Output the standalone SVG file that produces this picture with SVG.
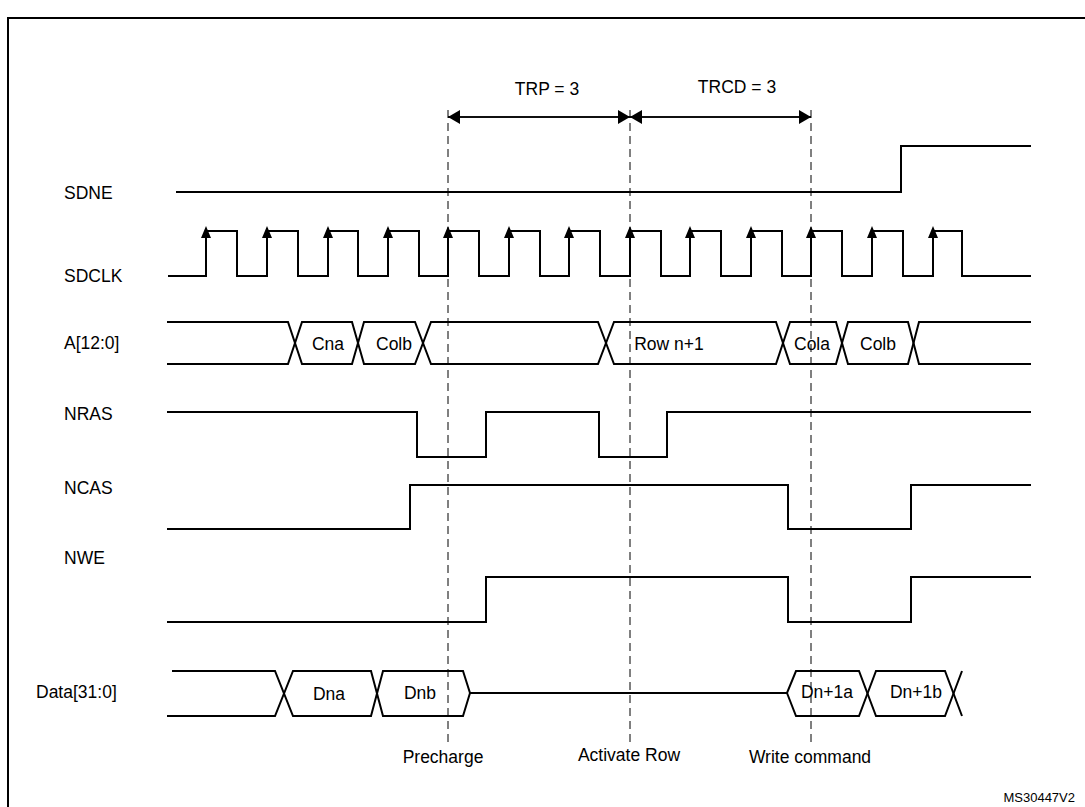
<svg xmlns="http://www.w3.org/2000/svg" width="1085" height="807" viewBox="0 0 1085 807">
<style>
.s{fill:none;stroke:#000;stroke-width:2}
.d{fill:none;stroke:#000;stroke-width:1;stroke-dasharray:8,5}
text{font-family:"Liberation Sans",Arial,sans-serif;font-size:17.5px;fill:#000}
.c{text-anchor:middle}
</style>
<defs>
<marker id="ah" markerWidth="12" markerHeight="14" refX="12" refY="7" orient="auto" markerUnits="userSpaceOnUse"><path d="M0,0L12,7L0,14z"/></marker>
</defs>
<rect x="8" y="18" width="1090" height="800" fill="none" stroke="#000" stroke-width="2"/>
<g id="labels">
<text x="64" y="199">SDNE</text>
<text x="64" y="282">SDCLK</text>
<text x="64" y="349">A[12:0]</text>
<text x="64" y="420">NRAS</text>
<text x="64" y="494">NCAS</text>
<text x="64" y="564">NWE</text>
<text x="36" y="698">Data[31:0]</text>
<text x="547" y="95" class="c">TRP = 3</text>
<text x="737" y="93" class="c">TRCD = 3</text>
<text x="443" y="763" class="c">Precharge</text>
<text x="629" y="761" class="c">Activate Row</text>
<text x="810" y="763" class="c">Write command</text>
<text x="1075" y="802" style="font-size:13px;text-anchor:end">MS30447V2</text>
</g>
<g id="connectors">
<path class="d" d="M448,110V743M630,110V743M811,110V743"/>
<path class="s" style="stroke-width:1.5" d="M630,117H448" marker-end="url(#ah)"/>
<path class="s" style="stroke-width:1.5" d="M448,117H630" marker-end="url(#ah)"/>
<path class="s" style="stroke-width:1.5" d="M630,117H811" marker-end="url(#ah)"/>
<path class="s" style="stroke-width:1.5" d="M811,117H630" marker-end="url(#ah)"/>
</g>
<g id="SDNE"><path class="s" d="M176,192H901V146H1031"/></g>
<g id="SDCLK">
<path class="s" d="M168,276H206V231H237V276H267V231H298V276H328V231H358V276H388V231H419V276H448V231H479V276H509V231H540V276H569V231H600V276H630V231H661V276H690V231H721V276H751V231H782V276H811V231H842V276H872V231H903V276H933V231H962V276H1031"/>
<g fill="#000"><path d="M206,226l-5,12h10zM267,226l-5,12h10zM328,226l-5,12h10zM388,226l-5,12h10zM448,226l-5,12h10zM509,226l-5,12h10zM569,226l-5,12h10zM630,226l-5,12h10zM690,226l-5,12h10zM751,226l-5,12h10zM811,226l-5,12h10zM872,226l-5,12h10zM933,226l-5,12h10z"/></g>
</g>
<g id="A">
<path class="s" d="M167,322H288L302,364H352L364,322H415L431,364H598L614,322H776L790,364H836L848,322H908L919,364H1031"/>
<path class="s" d="M167,364H288L302,322H352L364,364H415L431,322H598L614,364H776L790,322H836L848,364H908L919,322H1031"/>
<text x="328" y="350" class="c">Cna</text>
<text x="394" y="350" class="c">Colb</text>
<text x="669" y="350" class="c">Row n+1</text>
<text x="812" y="350" class="c">Cola</text>
<text x="878" y="350" class="c">Colb</text>
</g>
<g id="NRAS"><path class="s" d="M167,412H417V457H486V412H599V457H667V412H1031"/></g>
<g id="NCAS"><path class="s" d="M167,529H410V485H788V529H911V485H1031"/></g>
<g id="NWE"><path class="s" d="M167,622H486V577H788V622H911V577H1031"/></g>
<g id="Data">
<path class="s" d="M172,671H275L293,716H371L383,671H463L470,693H787L796,671H859L876,716H945L962,671"/>
<path class="s" d="M167,716H275L293,671H371L383,716H463L470,693M787,693L796,716H859L876,671H945L962,716"/>
<text x="329" y="700" class="c">Dna</text>
<text x="420" y="699" class="c">Dnb</text>
<text x="827" y="698" class="c">Dn+1a</text>
<text x="916" y="698" class="c">Dn+1b</text>
</g>
</svg>
